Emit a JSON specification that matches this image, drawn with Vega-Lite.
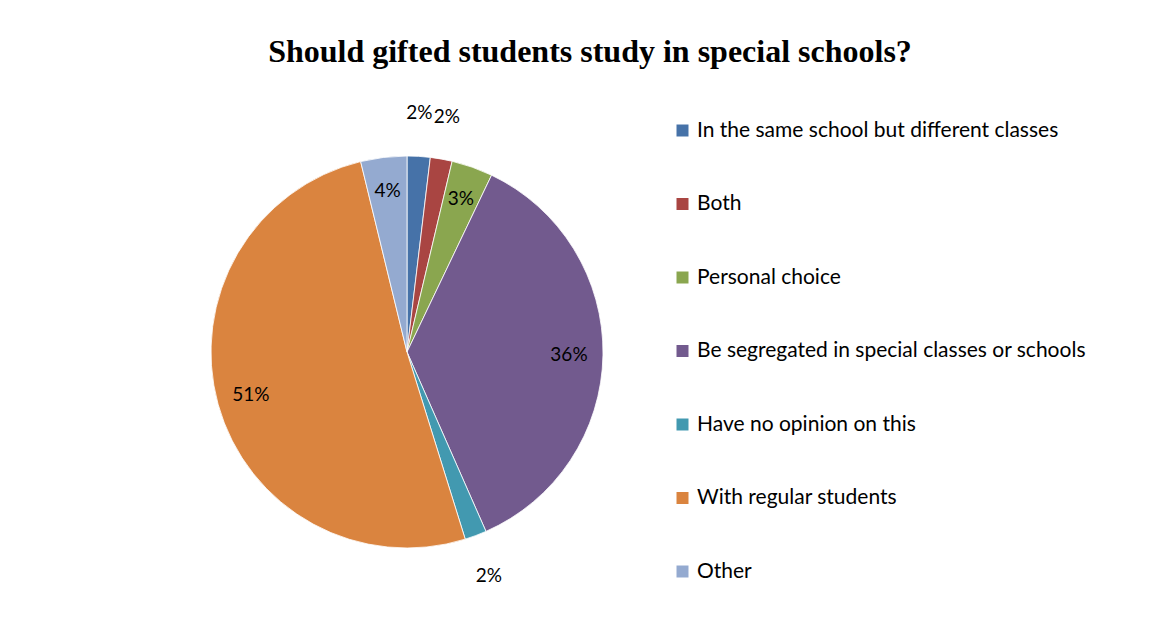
{
  "$schema": "https://vega.github.io/schema/vega-lite/v6.json",
  "autosize": "none",
  "width": 814,
  "height": 504,
  "padding": {"left": 0, "top": 100, "right": 343, "bottom": 13},
  "background": "white",
  "title": {
    "text": "Should gifted students study in special schools?",
    "font": "Liberation Serif",
    "fontSize": 32,
    "fontWeight": "bold",
    "color": "black",
    "anchor": "middle",
    "dx": 183,
    "offset": 31
  },
  "config": {"view": {"stroke": null}},
  "data": {
    "values": [
      {"category": "In the same school but different classes", "value": 0.019, "order": 1},
      {"category": "Both", "value": 0.018, "order": 2},
      {"category": "Personal choice", "value": 0.034, "order": 3},
      {"category": "Be segregated in special classes or schools", "value": 0.363, "order": 4},
      {"category": "Have no opinion on this", "value": 0.018, "order": 5},
      {"category": "With regular students", "value": 0.510, "order": 6},
      {"category": "Other", "value": 0.038, "order": 7}
    ]
  },
  "encoding": {
    "theta": {"field": "value", "type": "quantitative", "stack": true},
    "order": {"field": "order", "type": "quantitative"}
  },
  "layer": [
    {
      "mark": {"type": "arc", "outerRadius": 196, "stroke": "white", "strokeWidth": 0.8},
      "encoding": {
        "color": {
          "field": "category",
          "type": "nominal",
          "sort": null,
          "scale": {
            "domain": ["In the same school but different classes", "Both", "Personal choice", "Be segregated in special classes or schools", "Have no opinion on this", "With regular students", "Other"],
            "range": ["#4672A8", "#A94542", "#8AA64F", "#725A8E", "#4299B0", "#DA843F", "#94AAD0"]
          },
          "legend": {
            "orient": "none",
            "legendX": 672,
            "legendY": 20,
            "title": null,
            "symbolType": "square",
            "symbolSize": 144,
            "symbolStrokeWidth": 0,
            "labelFont": "Lato",
            "labelFontSize": 21,
            "labelColor": "black",
            "rowPadding": 51.5,
            "labelOffset": 4,
            "padding": 0,
            "labelLimit": 600
          }
        }
      }
    },
    {
      "mark": {"type": "text", "radius": 239, "font": "Lato", "fontSize": 19, "align": "center", "baseline": "middle", "dx": -2},
      "encoding": {
        "color": {"value": "black"},
        "text": {"condition": {"test": "datum.value < 0.025", "field": "value", "type": "quantitative", "format": ".0%"}, "value": ""}
      }
    },
    {
      "mark": {"type": "text", "radius": 162, "font": "Lato", "fontSize": 19, "align": "center", "baseline": "middle"},
      "encoding": {
        "color": {"value": "black"},
        "text": {"condition": {"test": "datum.value >= 0.025", "field": "value", "type": "quantitative", "format": ".0%"}, "value": ""}
      }
    }
  ]
}
